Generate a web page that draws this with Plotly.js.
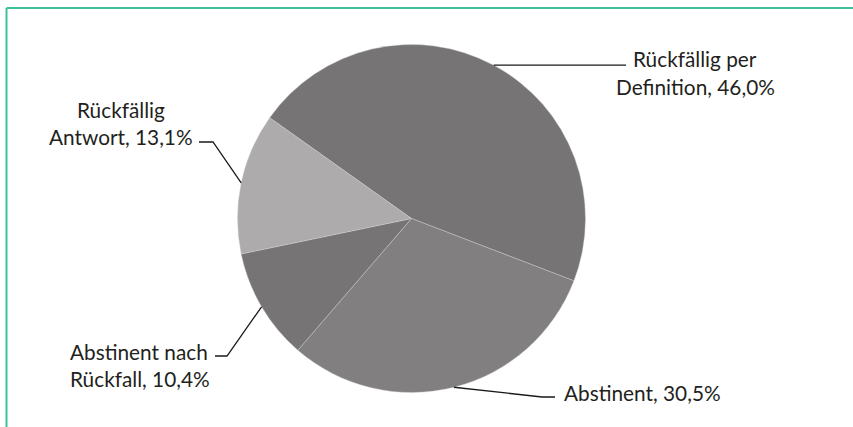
<!DOCTYPE html>
<html>
<head>
<meta charset="utf-8">
<script src="https://cdn.plot.ly/plotly-3.0.1.min.js"></script>
<style>html,body{margin:0;padding:0;background:#fff;}#chart{width:853px;height:427px;}</style>
</head>
<body>
<div id="chart"></div>
<script>
// ---- data ----
const labelLines = [
  ['Rückfällig per', 'Definition'],
  ['Abstinent'],
  ['Abstinent nach', 'Rückfall'],
  ['Rückfällig', 'Antwort']
];
const values = [46.0, 30.5, 10.4, 13.1];
const sliceColors = ['#767475', '#817f80', '#767475', '#adabac'];

// ---- layout constants (pixels) ----
const W = 853, H = 427;
const cx = 411.5, cy = 218.5, R = 174;
const rotation = -54.6;
const fontFam = 'Lato, "Open Sans", sans-serif';
const fs = 20.8;
const lineGap = 27.5;
const textColor = '#231f20';

// label placement per slice: elbow points and text anchor
const place = [
  {path: [[626, null]], tx: 695, ty: 59, align: 'center'},
  {path: [[542, 397], [555, 397]], tx: 562, ty: 392, align: 'left'},
  {path: [[227, 356], [215, 356]], tx: 68, ty: 351, align: 'left'},
  {path: [[213, 142], [199, 142]], tx: 121, ty: 109, align: 'center'}
];

const px = x => x / W;
const py = y => 1 - y / H;
const fmt = v => v.toFixed(1).replace('.', ',') + '%';

const total = values.reduce((a, b) => a + b, 0);
const shapes = [];
const annotations = [];
let ang = rotation;
values.forEach((v, i) => {
  const span = v / total * 360;
  const mid = (ang + span / 2) * Math.PI / 180;
  ang += span;
  const ax = cx + R * Math.sin(mid);
  const ay = cy - R * Math.cos(mid);
  const p = place[i];
  let d = 'M' + px(ax) + ',' + py(ay);
  p.path.forEach(pt => {
    const yy = pt[1] === null ? ay : pt[1];
    d += ' L' + px(pt[0]) + ',' + py(yy);
  });
  shapes.push({type: 'path', xref: 'paper', yref: 'paper', path: d,
    line: {color: '#1a1a1a', width: 1.3}});
  const lines = labelLines[i].slice();
  lines[lines.length - 1] += ', ' + fmt(v);
  lines.forEach((t, k) => {
    annotations.push({
      xref: 'paper', yref: 'paper', showarrow: false,
      x: px(p.tx), y: py(p.ty + k * lineGap),
      xanchor: p.align === 'center' ? 'center' : 'left', yanchor: 'middle',
      text: t, font: {family: fontFam, size: fs, color: textColor}
    });
  });
});

// frame lines (top and left)
shapes.push({type: 'line', xref: 'paper', yref: 'paper', x0: px(6.5), x1: 1, y0: py(8), y1: py(8),
  line: {color: '#3fbf9c', width: 2}});
shapes.push({type: 'line', xref: 'paper', yref: 'paper', x0: px(6.5), x1: px(6.5), y0: py(8), y1: 0,
  line: {color: '#3fbf9c', width: 2}});

const trace = {
  type: 'pie',
  values: values,
  labels: labelLines.map(l => l.join(' ')),
  sort: false,
  direction: 'clockwise',
  rotation: rotation,
  textinfo: 'none',
  hoverinfo: 'label+percent',
  marker: {colors: sliceColors, line: {color: '#d4d4d4', width: 0.4}},
  domain: {x: [px(cx - R), px(cx + R)], y: [py(cy + R), py(cy - R)]},
  showlegend: false
};

Plotly.newPlot('chart', [trace], {
  width: W, height: H,
  margin: {l: 0, r: 0, t: 0, b: 0},
  paper_bgcolor: '#ffffff',
  showlegend: false,
  shapes: shapes,
  annotations: annotations
}, {displayModeBar: false, staticPlot: true});
</script>
</body>
</html>
